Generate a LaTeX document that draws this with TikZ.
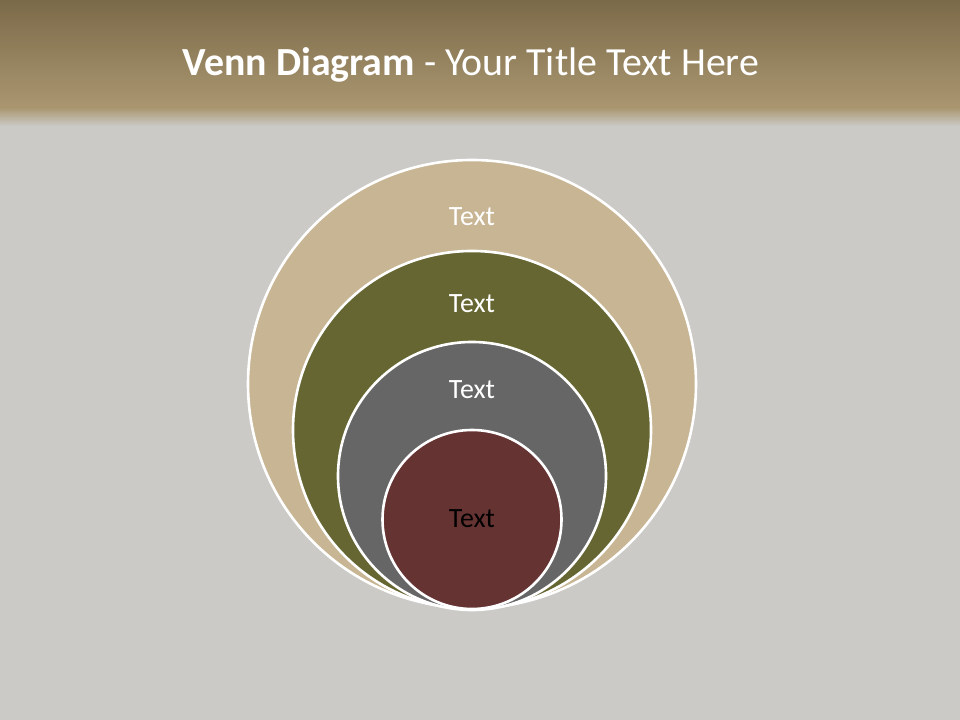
\documentclass[tikz,border=0pt]{standalone}
\usepackage{fontspec}
\setmainfont{Carlito}
\usepackage{tikz}
\usetikzlibrary{shapes, positioning, calc}

\definecolor{bgGray}{HTML}{CBCAC6}
\definecolor{barTop}{HTML}{7B6A49}
\definecolor{barBot}{HTML}{AA9771}
\definecolor{ringTan}{HTML}{C8B594}
\definecolor{ringOlive}{HTML}{666633}
\definecolor{ringGray}{HTML}{666666}
\definecolor{ringRed}{HTML}{663333}

\begin{document}
\begin{tikzpicture}[
        x=1bp, y=1bp,
        ring/.style={circle, draw=white, line width=2.6bp, inner sep=0pt},
        lbl/.style={text=white, font=\fontsize{28}{32}\selectfont, inner sep=0pt}
    ]
        % background and title bar
        \fill[bgGray] (0,0) rectangle (960,720);
        \shade[top color=barTop, bottom color=barBot] (0,720) rectangle (960,612);
        \shade[top color=barBot, bottom color=bgGray] (0,612.2) rectangle (960,594);
        \useasboundingbox (0,0) rectangle (960,720);

        \node[text=white, font=\fontsize{40}{46}\selectfont] (title) at (471,655)
            {\textbf{Venn Diagram} - Your Title Text Here};

        % nested circles, all touching at the bottom
        \node[ring, fill=ringTan, minimum size=448bp] (outer) at (472,336) {};
        \node[ring, fill=ringOlive, minimum size=358bp] (second) at (472,290) {};
        \node[ring, fill=ringGray, minimum size=268bp] (third) at (472,244) {};
        \node[ring, fill=ringRed, minimum size=179bp] (inner) at (472,200.5) {};

        \node[lbl] (tOuter) at ([yshift=-58bp]outer.north) {Text};
        \node[lbl] (tSecond) at ([yshift=-54bp]second.north) {Text};
        \node[lbl] (tThird) at ([yshift=-49bp]third.north) {Text};
        \node[lbl, text=black] (tInner) at ([yshift=1bp]inner) {Text};
    \end{tikzpicture}
\end{document}
